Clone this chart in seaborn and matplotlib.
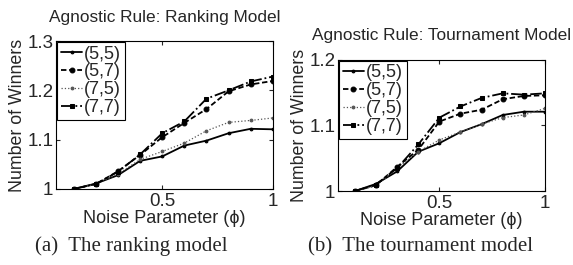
import numpy as np
import pandas as pd
import matplotlib
matplotlib.use('Agg')
import matplotlib.pyplot as plt
import seaborn as sns

noise = [0.1, 0.2, 0.3, 0.4, 0.5, 0.6, 0.7, 0.8, 0.9, 1.0]
labels = ['(5,5)', '(5,7)', '(7,5)', '(7,7)']

ranking_55 = [1.000, 1.011, 1.028, 1.057, 1.066, 1.088, 1.098, 1.113, 1.122, 1.121]
ranking_57 = [1.000, 1.010, 1.036, 1.069, 1.105, 1.134, 1.162, 1.198, 1.212, 1.219]
ranking_75 = [1.000, 1.010, 1.030, 1.060, 1.076, 1.093, 1.118, 1.135, 1.139, 1.144]
ranking_77 = [1.000, 1.010, 1.035, 1.070, 1.113, 1.137, 1.183, 1.200, 1.218, 1.228]

tourn_55 = [1.000, 1.011, 1.030, 1.060, 1.073, 1.090, 1.102, 1.116, 1.121, 1.121]
tourn_57 = [1.000, 1.009, 1.037, 1.063, 1.106, 1.118, 1.124, 1.140, 1.145, 1.146]
tourn_75 = [1.000, 1.008, 1.035, 1.060, 1.078, 1.090, 1.102, 1.112, 1.116, 1.126]
tourn_77 = [1.000, 1.010, 1.035, 1.071, 1.112, 1.129, 1.142, 1.149, 1.147, 1.149]

sns.set_style('white')
plt.rcParams['font.family'] = ['Liberation Sans', 'DejaVu Sans']

styles = {
    '(5,5)': dict(linestyle='-', marker='.', markersize=4, color='black', linewidth=1.3),
    '(5,7)': dict(linestyle=(0, (3, 1.5)), marker='o', markersize=3.5, color='black', linewidth=1.3),
    '(7,5)': dict(linestyle=':', marker='.', markersize=4, color='#555555', linewidth=0.9),
    '(7,7)': dict(linestyle='-.', marker='s', markersize=3.5, color='black', linewidth=1.3),
}

fig = plt.figure(figsize=(5.73, 2.65), dpi=100)
ax1 = fig.add_axes([0.098, 0.287, 0.378, 0.558])
ax2 = fig.add_axes([0.590, 0.279, 0.361, 0.495])


def draw(ax, series, title, ymax, yticks):
    for lab, vals in zip(labels, series):
        df = pd.DataFrame({'x': noise, 'y': vals})
        sns.lineplot(data=df, x='x', y='y', ax=ax, label=lab,
                     markeredgecolor=styles[lab]['color'], **styles[lab])
    ax.set_xlim(0.02, 1.0)
    ax.set_ylim(1.0, ymax)
    ax.set_xticks([0.5, 1])
    ax.set_xticklabels(['0.5', '1'])
    ax.set_yticks(yticks)
    ax.set_yticklabels([('%g' % t) for t in yticks])
    ax.tick_params(direction='in', length=3, labelsize=13.5, pad=2,
                   top=True, right=True, bottom=True, left=True)
    ax.tick_params(axis='x', pad=3)
    for s in ax.spines.values():
        s.set_color('black')
        s.set_linewidth(0.8)
    ax.set_xlabel('Noise Parameter (ϕ)', fontsize=13, labelpad=0)
    ax.set_ylabel('Number of Winners', fontsize=12.8, labelpad=1)
    ax.set_title(title, fontsize=12.4, pad=14)
    leg = ax.legend(loc='upper left', fontsize=13, handlelength=1.2,
                    handletextpad=0.1, labelspacing=0.05, borderpad=0.2,
                    borderaxespad=0.05, fancybox=False, framealpha=1)
    leg.get_frame().set_edgecolor('black')
    leg.get_frame().set_linewidth(0.8)


draw(ax1, [ranking_55, ranking_57, ranking_75, ranking_77],
     'Agnostic Rule: Ranking Model', 1.3, [1, 1.1, 1.2, 1.3])
draw(ax2, [tourn_55, tourn_57, tourn_75, tourn_77],
     'Agnostic Rule: Tournament Model', 1.2, [1, 1.1, 1.2])

fig.text(0.229, 0.07, '(a)  The ranking model', family='Liberation Serif',
         fontsize=15, ha='center', va='center')
fig.text(0.733, 0.07, '(b)  The tournament model', family='Liberation Serif',
         fontsize=15, ha='center', va='center')

fig.savefig('out.png', dpi=100)
